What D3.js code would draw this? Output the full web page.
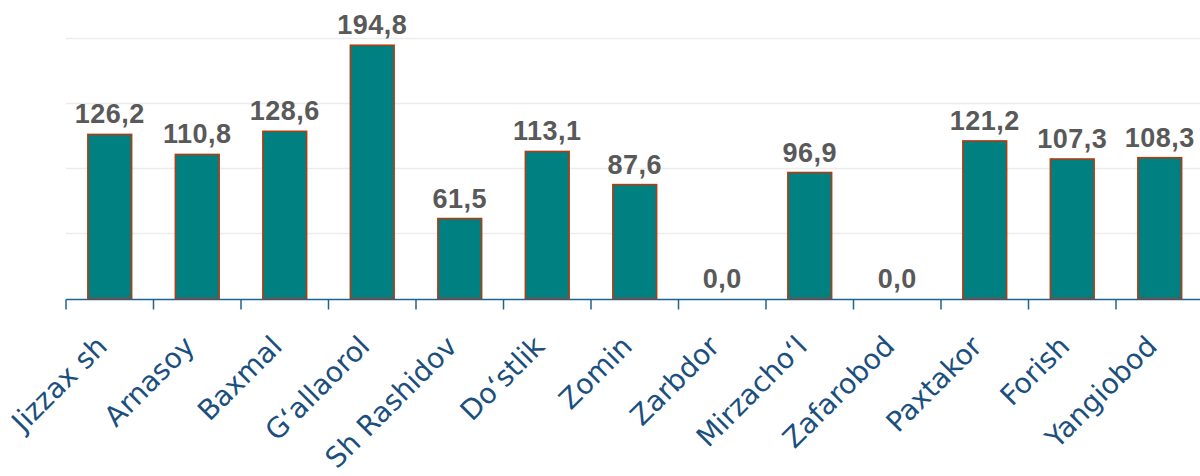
<!DOCTYPE html>
<html>
<head>
<meta charset="utf-8">
<script src="https://cdn.jsdelivr.net/npm/d3@7/dist/d3.min.js"></script>
<style>
  html, body { margin: 0; padding: 0; background: #ffffff; }
  svg { display: block; }
</style>
</head>
<body>
<svg id="chart" width="1200" height="476"></svg>
<script>
const categories = ["Jizzax sh", "Arnasoy", "Baxmal", "G\u2018allaorol", "Sh Rashidov", "Do\u2018stlik", "Zomin", "Zarbdor", "Mirzacho\u2018l", "Zafarobod", "Paxtakor", "Forish", "Yangiobod"];
const values = [126.2, 110.8, 128.6, 194.8, 61.5, 113.1, 87.6, 0.0, 96.9, 0.0, 121.2, 107.3, 108.3];
const gridTicks = [50, 100, 150, 200];

const W = 1200, H = 476;
const svg = d3.select("#chart");

const x = d3.scaleBand().domain(categories).range([66, 1203.5]).paddingInner(0.5).paddingOuter(0.25);
const xb = d3.scaleBand().domain(categories).range([66, 1203.5]).padding(0);
const y = d3.scaleLinear().domain([0, 200]).range([298.5, 38.5]);

// gridlines
svg.append("g").selectAll("line").data(gridTicks).join("line")
  .attr("x1", 66).attr("x2", W)
  .attr("y1", d => y(d)).attr("y2", d => y(d))
  .attr("stroke", "#ececec").attr("stroke-width", 1.5);

// bars
svg.append("g").selectAll("rect").data(values).join("rect")
  .attr("x", (d, i) => x(categories[i]))
  .attr("width", x.bandwidth())
  .attr("y", d => y(d))
  .attr("height", d => y(0) - y(d))
  .attr("fill", "#008080")
  .attr("stroke", d => d > 0 ? "#b23c12" : "none")
  .attr("stroke-width", 1.6);

// axis line and ticks
const axisY = 299.5;
const axis = svg.append("g");
axis.append("line").attr("x1", xb(categories[0])).attr("x2", W)
  .attr("y1", axisY).attr("y2", axisY)
  .attr("stroke", "#1f6391").attr("stroke-width", 1.5);
const tickPos = categories.map(c => xb(c)).concat([xb.range()[1]]);
axis.selectAll("line.tick").data(tickPos).join("line").attr("class", "tick")
  .attr("x1", d => d).attr("x2", d => d)
  .attr("y1", axisY).attr("y2", axisY + 10)
  .attr("stroke", "#1f6391").attr("stroke-width", 1.5);

// value labels
svg.append("g").selectAll("text").data(values).join("text")
  .attr("x", (d, i) => xb(categories[i]) + xb.bandwidth() / 2)
  .attr("y", d => y(d) - 11)
  .attr("text-anchor", "middle")
  .attr("font-family", "'Liberation Sans', Arial, sans-serif")
  .attr("font-weight", "bold")
  .attr("font-size", 27)
  .attr("letter-spacing", 0.5)
  .attr("fill", "#595959")
  .text(d => d.toFixed(1).replace(".", ","));

// category labels
svg.append("g").selectAll("text").data(categories).join("text")
  .attr("transform", c => `translate(${xb(c) + xb.bandwidth() / 2 - 1},348) rotate(-45)`)
  .attr("text-anchor", "end")
  .attr("font-family", "'DejaVu Sans', sans-serif")
  .attr("font-size", 28)
  .attr("fill", "#1b4f7e")
  .text(c => c);
</script>
</body>
</html>
